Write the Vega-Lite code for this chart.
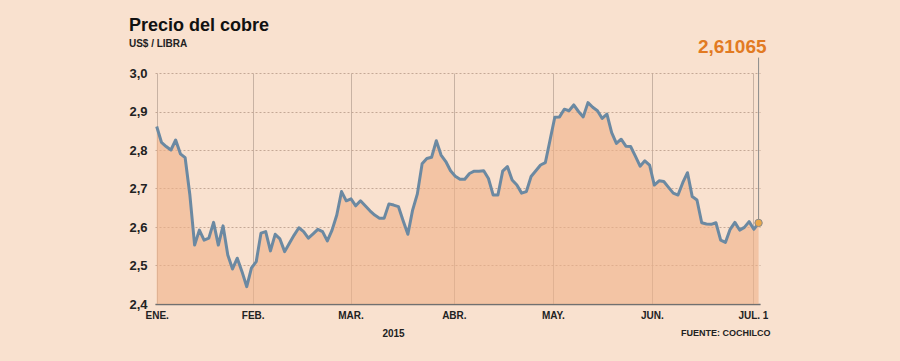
{
  "$schema": "https://vega.github.io/schema/vega-lite/v6.json",
  "width": 605,
  "height": 231,
  "autosize": {"type": "none"},
  "padding": {"left": 155, "top": 73, "right": 140, "bottom": 57},
  "background": "#f9e1cf",
  "title": {
    "text": "Precio del cobre",
    "subtitle": "US$ / LIBRA",
    "anchor": "start",
    "frame": "bounds",
    "font": "Liberation Sans",
    "fontSize": 18,
    "fontWeight": "bold",
    "color": "#111111",
    "subtitleFont": "Liberation Sans",
    "subtitleFontSize": 10,
    "subtitleFontWeight": "bold",
    "subtitleColor": "#222222",
    "subtitlePadding": 4,
    "offset": -11
  },
  "config": {
    "view": {"stroke": null},
    "locale": {"number": {"decimal": ",", "thousands": ".", "grouping": [3], "currency": ["", "$"]}},
    "font": "Liberation Sans",
    "axisY": {
      "tickCount": 7,
      "format": ".1f",
      "grid": true, "gridColor": "#c4a896", "gridDash": [2, 2], "gridWidth": 1,
      "domain": false, "ticks": false,
      "labelFont": "Liberation Sans", "labelFontSize": 13, "labelFontWeight": "bold", "labelColor": "#222222",
      "labelPadding": 8, "labelBaseline": "middle", "labelOverlap": false, "labelFlush": false
    }
  },
  "data": {"values": [
    {"i":0,"v":2.861},{"i":1,"v":2.820},{"i":2,"v":2.809},{"i":3,"v":2.800},{"i":4,"v":2.826},
    {"i":5,"v":2.790},{"i":6,"v":2.780},{"i":7,"v":2.683},{"i":8,"v":2.553},{"i":9,"v":2.592},
    {"i":10,"v":2.566},{"i":11,"v":2.571},{"i":12,"v":2.612},{"i":13,"v":2.553},{"i":14,"v":2.603},
    {"i":15,"v":2.527},{"i":16,"v":2.491},{"i":17,"v":2.519},{"i":18,"v":2.484},{"i":19,"v":2.445},
    {"i":20,"v":2.494},{"i":21,"v":2.510},{"i":22,"v":2.584},{"i":23,"v":2.588},{"i":24,"v":2.538},
    {"i":25,"v":2.581},{"i":26,"v":2.569},{"i":27,"v":2.536},{"i":28,"v":2.558},{"i":29,"v":2.579},
    {"i":30,"v":2.598},{"i":31,"v":2.588},{"i":32,"v":2.571},{"i":33,"v":2.582},{"i":34,"v":2.594},
    {"i":35,"v":2.588},{"i":36,"v":2.564},{"i":37,"v":2.592},{"i":38,"v":2.631},{"i":39,"v":2.692},
    {"i":40,"v":2.668},{"i":41,"v":2.673},{"i":42,"v":2.655},{"i":43,"v":2.668},{"i":44,"v":2.655},
    {"i":45,"v":2.642},{"i":46,"v":2.631},{"i":47,"v":2.623},{"i":48,"v":2.623},{"i":49,"v":2.660},
    {"i":50,"v":2.657},{"i":51,"v":2.653},{"i":52,"v":2.616},{"i":53,"v":2.581},{"i":54,"v":2.644},
    {"i":55,"v":2.686},{"i":56,"v":2.764},{"i":57,"v":2.778},{"i":58,"v":2.781},{"i":59,"v":2.824},
    {"i":60,"v":2.787},{"i":61,"v":2.770},{"i":62,"v":2.746},{"i":63,"v":2.732},{"i":64,"v":2.724},
    {"i":65,"v":2.724},{"i":66,"v":2.739},{"i":67,"v":2.745},{"i":68,"v":2.745},{"i":69,"v":2.746},
    {"i":70,"v":2.726},{"i":71,"v":2.683},{"i":72,"v":2.683},{"i":73,"v":2.745},{"i":74,"v":2.757},
    {"i":75,"v":2.722},{"i":76,"v":2.709},{"i":77,"v":2.688},{"i":78,"v":2.692},{"i":79,"v":2.731},
    {"i":80,"v":2.746},{"i":81,"v":2.761},{"i":82,"v":2.767},{"i":83,"v":2.826},{"i":84,"v":2.885},
    {"i":85,"v":2.886},{"i":86,"v":2.906},{"i":87,"v":2.902},{"i":88,"v":2.917},{"i":89,"v":2.900},
    {"i":90,"v":2.886},{"i":91,"v":2.923},{"i":92,"v":2.911},{"i":93,"v":2.902},{"i":94,"v":2.882},
    {"i":95,"v":2.893},{"i":96,"v":2.845},{"i":97,"v":2.817},{"i":98,"v":2.828},{"i":99,"v":2.810},
    {"i":100,"v":2.809},{"i":101,"v":2.784},{"i":102,"v":2.758},{"i":103,"v":2.772},{"i":104,"v":2.761},
    {"i":105,"v":2.709},{"i":106,"v":2.720},{"i":107,"v":2.718},{"i":108,"v":2.703},{"i":109,"v":2.688},
    {"i":110,"v":2.683},{"i":111,"v":2.715},{"i":112,"v":2.741},{"i":113,"v":2.679},{"i":114,"v":2.670},
    {"i":115,"v":2.611},{"i":116,"v":2.608},{"i":117,"v":2.607},{"i":118,"v":2.611},{"i":119,"v":2.566},
    {"i":120,"v":2.560},{"i":121,"v":2.594},{"i":122,"v":2.612},{"i":123,"v":2.592},{"i":124,"v":2.599},
    {"i":125,"v":2.614},{"i":126,"v":2.594},{"i":127,"v":2.61065}
  ]},
  "layer": [
    {
      "mark": {"type": "area", "fill": "#efb189", "fillOpacity": 0.62},
      "encoding": {
        "x": {
          "field": "i", "type": "quantitative", "title": "2015",
          "scale": {"domain": [-0.36, 127.3], "nice": false, "zero": false},
          "axis": {
            "values": [0, 20.25, 40.9, 62.7, 83.6, 104.5, 125.8],
            "labelExpr": "datum.value < 10 ? 'ENE.' : datum.value < 30 ? 'FEB.' : datum.value < 50 ? 'MAR.' : datum.value < 70 ? 'ABR.' : datum.value < 90 ? 'MAY.' : datum.value < 110 ? 'JUN.' : 'JUL. 1'",
            "grid": true, "gridColor": "#c8b2a3", "gridWidth": 1,
            "domain": true, "domainColor": "#707070", "domainWidth": 1.5,
            "ticks": false,
            "labelFont": "Liberation Sans", "labelFontSize": 10, "labelFontWeight": "bold", "labelColor": "#222222",
            "labelPadding": 6, "labelFlush": false, "labelOverlap": false,
            "titleFont": "Liberation Sans", "titleFontSize": 10, "titleFontWeight": "bold", "titleColor": "#222222",
            "titleX": 238, "titleY": 29, "titleAlign": "center", "titleBaseline": "middle", "titleAnchor": null
          }
        },
        "y": {
          "field": "v", "type": "quantitative", "title": null,
          "scale": {"domain": [2.4, 3.0], "nice": false, "zero": false},
          "axis": {"values": [2.4, 2.5, 2.6, 2.7, 2.8, 2.9, 3.0], "tickCount": 7}
        },
        "y2": {"datum": 2.4}
      }
    },
    {
      "mark": {"type": "line", "stroke": "#6b89a2", "strokeWidth": 3, "strokeJoin": "round"},
      "encoding": {
        "x": {"field": "i", "type": "quantitative", "title": "2015"},
        "y": {"field": "v", "type": "quantitative", "title": null, "axis": {"values": [2.4, 2.5, 2.6, 2.7, 2.8, 2.9, 3.0], "tickCount": 7}}
      }
    },
    {
      "transform": [{"filter": "datum.i == 127"}],
      "mark": {"type": "rule", "stroke": "#8a8a8a", "strokeWidth": 1},
      "encoding": {
        "x": {"field": "i", "type": "quantitative", "title": "2015"},
        "y": {"field": "v", "type": "quantitative", "title": null, "axis": {"values": [2.4, 2.5, 2.6, 2.7, 2.8, 2.9, 3.0], "tickCount": 7}},
        "y2": {"datum": 3.04}
      }
    },
    {
      "transform": [{"filter": "datum.i == 127"}],
      "mark": {"type": "point", "filled": true, "fill": "#eaa94c", "stroke": "#8a8a8a", "strokeWidth": 1, "size": 55, "opacity": 1},
      "encoding": {
        "x": {"field": "i", "type": "quantitative", "title": "2015"},
        "y": {"field": "v", "type": "quantitative", "title": null, "axis": {"values": [2.4, 2.5, 2.6, 2.7, 2.8, 2.9, 3.0], "tickCount": 7}}
      }
    },
    {
      "transform": [{"filter": "datum.i == 127"}],
      "mark": {"type": "text", "align": "right", "baseline": "alphabetic", "dx": 8, "dy": -20, "fontSize": 19, "fontWeight": "bold", "font": "Liberation Sans", "color": "#e27a22"},
      "encoding": {
        "x": {"field": "i", "type": "quantitative", "title": "2015"},
        "y": {"datum": 3.0, "type": "quantitative", "title": null, "axis": {"values": [2.4, 2.5, 2.6, 2.7, 2.8, 2.9, 3.0], "tickCount": 7}},
        "text": {"field": "v", "type": "quantitative", "format": ".5f"}
      }
    },
    {
      "data": {"values": [{"fuente": "FUENTE: COCHILCO"}]},
      "mark": {"type": "text", "align": "right", "baseline": "middle", "dx": 12, "dy": 29, "fontSize": 9, "fontWeight": "bold", "font": "Liberation Sans Narrow, Liberation Sans", "color": "#222222"},
      "encoding": {
        "x": {"datum": 127, "type": "quantitative", "title": "2015"},
        "y": {"datum": 2.4, "type": "quantitative", "title": null, "axis": {"values": [2.4, 2.5, 2.6, 2.7, 2.8, 2.9, 3.0], "tickCount": 7}},
        "text": {"field": "fuente"}
      }
    }
  ]
}
